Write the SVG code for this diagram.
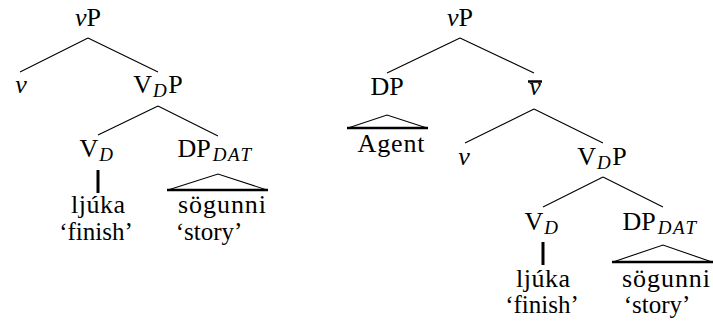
<svg xmlns="http://www.w3.org/2000/svg" width="713" height="324" viewBox="0 0 713 324">
<style>
text{font-family:'Liberation Serif','Times New Roman',Times,'DejaVu Serif',serif;font-size:26px;fill:#000;text-anchor:middle}
.i{font-style:italic}
.s{font-style:italic;font-size:19px;letter-spacing:1.5px}
.g{font-size:25px}
.e{stroke:#000;stroke-width:1.1;fill:none}
.t{stroke:#000;stroke-width:3;fill:none}
.b{stroke:#000;stroke-width:2.5;fill:none}
</style>
<rect width="713" height="324" fill="#fff"/>
<g id="connectors">
<path class="e" d="M88,38 L20,72 M88,38 L158,72 M158,106 L98,135 M158,106 L218,136"/>
<path class="t" d="M98,170 V193"/>
<path class="e" d="M168,190 L218,174 L267,190"/>
<path class="b" d="M167,190 H268"/>
<path class="e" d="M460,38 L387,73 M460,38 L534,73 M534,109 L465,143 M534,109 L603,143 M603,177 L543,207 M603,177 L663,207"/>
<path class="e" d="M348,128 L387,115 L427,128"/>
<path class="b" d="M347,128 H428"/>
<path class="t" d="M543,242 V265"/>
<path class="e" d="M613,262 L663,245 L712,262"/>
<path class="b" d="M612,262 H713"/>
<path class="b" d="M528,81.5 H542"/>
</g>
<g id="L_vP"><text x="88" y="26"><tspan class="i">v</tspan>P</text></g>
<g id="L_v"><text x="21" y="93" class="i">v</text></g>
<g id="L_VDP"><text x="158" y="93">V<tspan class="s" dx="1" dy="4">D</tspan><tspan dy="-4">P</tspan></text></g>
<g id="L_VD"><text x="97" y="157">V<tspan class="s" dx="1" dy="4">D</tspan></text></g>
<g id="L_DPDAT"><text x="215" y="157">DP<tspan class="s" dx="2" dy="4">DAT</tspan></text></g>
<g id="L_ljuka"><text x="98" y="213" textLength="54">ljúka</text><text class="g" x="96" y="240">‘finish’</text></g>
<g id="L_sogunni"><text x="222" y="213" textLength="88">sögunni</text><text class="g" x="209" y="240">‘story’</text></g>
<g id="R_vP"><text x="460" y="26"><tspan class="i">v</tspan>P</text></g>
<g id="R_DP"><text x="387" y="95">DP</text></g>
<g id="R_vbar"><text x="535" y="95" class="i">v</text></g>
<g id="R_Agent"><text x="391" y="152" textLength="67">Agent</text></g>
<g id="R_v"><text x="464" y="165" class="i">v</text></g>
<g id="R_VDP"><text x="602" y="165">V<tspan class="s" dx="1" dy="4">D</tspan><tspan dy="-4">P</tspan></text></g>
<g id="R_VD"><text x="542" y="230">V<tspan class="s" dx="1" dy="4">D</tspan></text></g>
<g id="R_DPDAT"><text x="660" y="230">DP<tspan class="s" dx="2" dy="4">DAT</tspan></text></g>
<g id="R_ljuka"><text x="543" y="287" textLength="54">ljúka</text><text class="g" x="542" y="313">‘finish’</text></g>
<g id="R_sogunni"><text x="666" y="287" textLength="88">sögunni</text><text class="g" x="657" y="313">‘story’</text></g>
</svg>
